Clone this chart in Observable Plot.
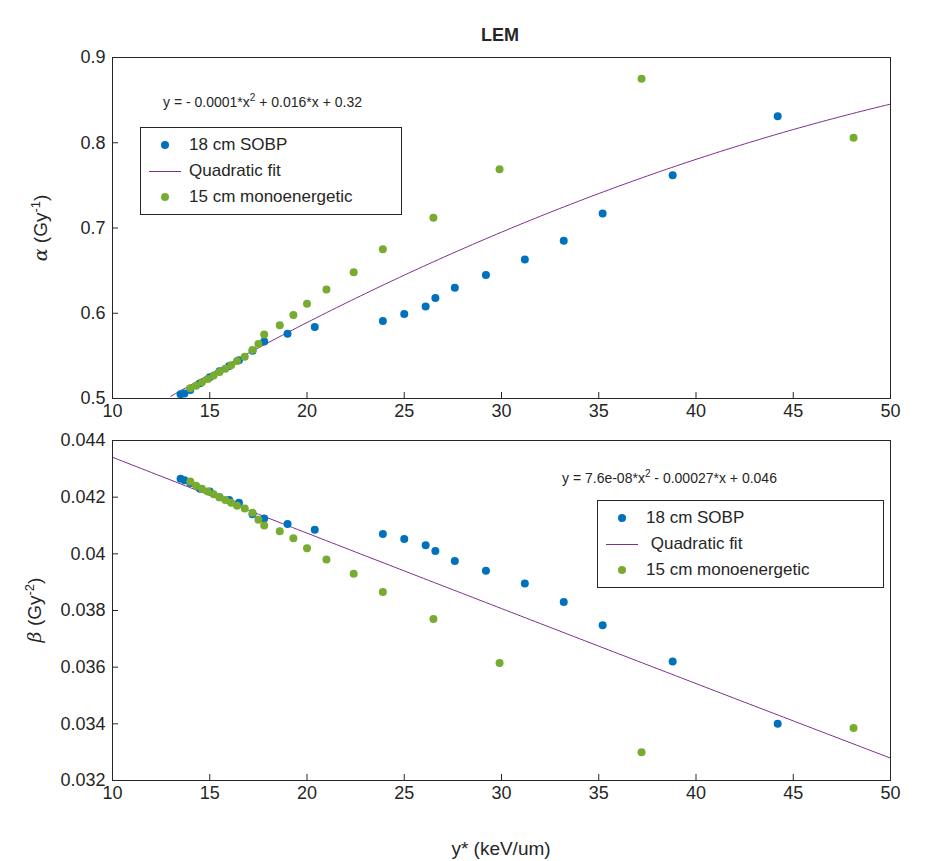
<!DOCTYPE html>
<html><head><meta charset="utf-8">
<script src="https://cdn.jsdelivr.net/npm/d3@7"></script>
<script src="https://cdn.jsdelivr.net/npm/@observablehq/plot@0.6"></script>
<style>
body{margin:0;background:#fff;font-family:Arial,"Liberation Sans",sans-serif;color:#262626}
#wrap{position:relative;width:951px;height:861px}
.abs{position:absolute;white-space:nowrap}
.leg{position:absolute;border:1px solid #262626;background:#fff;font-size:17px}
.leg div{position:relative;height:26px;line-height:26px;padding-left:48px}
.dot{position:absolute;left:20px;top:9px;width:8px;height:8px;border-radius:50%}
.ln{position:absolute;left:8px;top:13px;width:32px;height:1px}
.ylab{position:absolute;font-size:19px;transform:translate(-50%,-50%) rotate(-90deg)}
</style></head><body>
<div id="wrap"></div>
<script>
const sobpX=[13.5,13.7,14,14.5,15,15.5,16,16.5,17.2,17.8,19,20.4,23.9,25,26.1,26.6,27.6,29.2,31.2,33.2,35.2,38.8,44.2];
const sobpAlpha=[0.505,0.506,0.51,0.518,0.525,0.532,0.538,0.545,0.556,0.567,0.576,0.584,0.591,0.599,0.608,0.618,0.630,0.645,0.663,0.685,0.717,0.762,0.831];
const sobpBeta=[0.04265,0.0426,0.0425,0.0423,0.0422,0.0420,0.0419,0.0418,0.0414,0.04125,0.04105,0.04085,0.0407,0.04052,0.0403,0.0401,0.03975,0.0394,0.03895,0.0383,0.03748,0.0362,0.0340];
const monoX=[14,14.3,14.6,14.9,15.2,15.5,15.8,16.1,16.4,16.8,17.2,17.5,17.8,18.6,19.3,20.0,21.0,22.4,23.9,26.5,29.9,37.2,48.1];
const monoAlpha=[0.512,0.515,0.519,0.523,0.527,0.531,0.535,0.539,0.544,0.549,0.557,0.564,0.575,0.586,0.598,0.611,0.628,0.648,0.675,0.712,0.769,0.875,0.806];
const monoBeta=[0.04255,0.0424,0.0423,0.0422,0.0421,0.0420,0.0419,0.0418,0.0417,0.0416,0.04145,0.0412,0.0410,0.0408,0.04055,0.0402,0.0398,0.0393,0.03865,0.0377,0.03615,0.0330,0.03385];
const fitAlpha=[-0.000103,0.01575,0.3153];
const fitBeta=[7.6e-8,-0.00027,0.0461];
const xTicks=[10,15,20,25,30,35,40,45,50];
const alphaTicks=[0.5,0.6,0.7,0.8,0.9];
const betaTicks=[0.032,0.034,0.036,0.038,0.04,0.042,0.044];
const BLUE="#0072BD",GREEN="#77AC30",PURPLE="#7E2F8E";
const fitX=d3.range(10,50.01,0.25);
const curve=c=>fitX.map(x=>({x,y:c[0]*x*x+c[1]*x+c[2]}));

function panel(h,mt,mb,yd,yt,ys,yfmt){
  const sobp=sobpX.map((x,i)=>({x,y:ys[i]}));
  const mono=monoX.map((x,i)=>({x,y:ys===sobpAlpha?monoAlpha[i]:monoBeta[i]}));
  return Plot.plot({width:951,height:h,marginLeft:112,marginRight:61,marginTop:mt,marginBottom:mb,
    style:{fontSize:"18px",fontFamily:"Arial, Liberation Sans, sans-serif",color:"#262626",overflow:"visible"},
    x:{domain:[10,50],ticks:xTicks,tickSize:-6,tickPadding:12,label:null},
    y:{domain:yd,ticks:yt,tickSize:-6,tickPadding:13,label:null,tickFormat:yfmt},
    marks:[
      Plot.line(curve(ys===sobpAlpha?fitAlpha:fitBeta).filter(d=>d.y>=yd[0]&&d.y<=yd[1]),{x:"x",y:"y",stroke:PURPLE,strokeWidth:1}),
      Plot.dot(sobp,{x:"x",y:"y",r:4,fill:BLUE}),
      Plot.dot(mono,{x:"x",y:"y",r:4,fill:GREEN}),
      Plot.frame({stroke:"#262626"})
    ]});
}
const wrap=document.getElementById("wrap");
const p1=panel(430,57,32,[0.5,0.9],alphaTicks,sobpAlpha,d3.format(".1f"));
p1.style.position="absolute";p1.style.top="0px";p1.style.left="0px";
const p2=panel(431,10,81,[0.032,0.044],betaTicks,sobpBeta,d=>d===0.04?"0.04":d3.format(".3f")(d));
p2.style.position="absolute";p2.style.top="430px";p2.style.left="0px";
wrap.append(p1,p2);
function legend(l,t,w,texts){
  const d=document.createElement("div");d.className="leg";d.style.left=l+"px";d.style.top=t+"px";d.style.width=w+"px";d.style.padding="4px 0";
  d.innerHTML=`<div><span class="dot" style="background:${BLUE}"></span>${texts[0]}</div>
<div><span class="ln" style="background:${PURPLE}"></span>${texts[1]}</div>
<div><span class="dot" style="background:${GREEN}"></span>${texts[2]}</div>`;
  wrap.append(d);
}
legend(140,127,260,["18 cm SOBP","Quadratic fit","15 cm monoenergetic"]);
legend(597,500,285,["18 cm SOBP","&nbsp;Quadratic fit","15 cm monoenergetic"]);
wrap.insertAdjacentHTML("beforeend",`
<div class="abs" style="left:0;width:1000px;top:25px;text-align:center;font-weight:bold;font-size:18px">LEM</div>
<div class="abs" style="left:163px;top:92px;font-size:14px">y = - 0.0001*x<sup style="font-size:10px">2</sup> + 0.016*x + 0.32</div>
<div class="abs" style="left:562px;top:468px;font-size:14px">y = 7.6e-08*x<sup style="font-size:10px">2</sup> - 0.00027*x + 0.046</div>
<div class="ylab" style="left:40px;top:228px"><span style="font-family:'DejaVu Serif',serif;font-style:italic">α</span> (Gy<sup style="font-size:13px">-1</sup>)</div>
<div class="ylab" style="left:34px;top:610px"><span style="font-family:'DejaVu Serif',serif;font-style:italic">β</span> (Gy<sup style="font-size:13px">-2</sup>)</div>
<div class="abs" style="left:112px;width:778px;top:838px;text-align:center;font-size:19px">y* (keV/um)</div>`);
</script></body></html>
